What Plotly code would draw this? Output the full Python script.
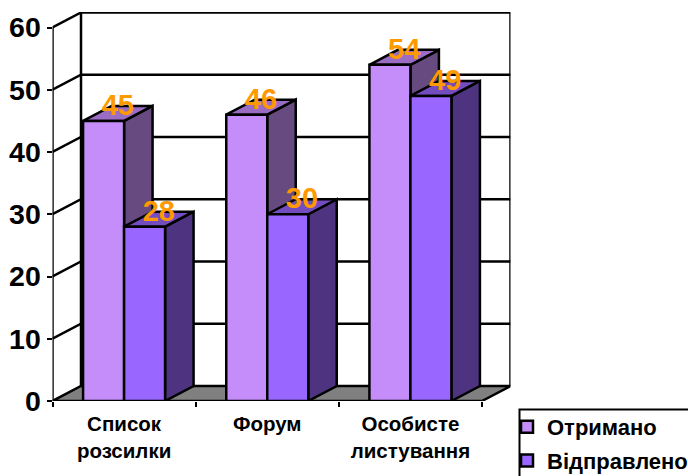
import plotly.graph_objects as go

categories = ["Список<br>розсилки", "Форум", "Особисте<br>листування"]
series_names = ["Отримано", "Відправлено"]
received = [45, 46, 54]
sent = [28, 30, 49]
y_ticks = [0, 10, 20, 30, 40, 50, 60]

FRONT = ["#C48DFA", "#9966FF"]
TOP = ["#9A6CC4", "#734CBF"]
SIDE = ["#664A80", "#4D3380"]
ORANGE = "#FF9900"
FONT = "Liberation Sans"

W, H = 688, 476
X0, X3, Y0, Y60 = 52.5, 482.0, 401.0, 27.5
PX_X = (X3 - X0) / 3
PX_Y = (Y0 - Y60) / 60
DX = 28.5 / PX_X      # depth of the 3D box in x units
DY = 15.0 / PX_Y      # depth of the 3D box in y units
BW = 41.0 / PX_X      # bar width in x units
xc = [0.5, 1.5, 2.5]
LW = 2.5

fig = go.Figure()


def lines(xs, ys, z, width=LW):
    fig.add_trace(go.Scatter(x=xs, y=ys, mode="lines", line=dict(color="black", width=width),
                             showlegend=False, hoverinfo="skip", zorder=z, cliponaxis=False))


def poly(xs, ys, fill, z):
    fig.add_trace(go.Scatter(x=xs, y=ys, mode="lines", fill="toself", fillcolor=fill,
                             line=dict(color="black", width=LW), showlegend=False,
                             hoverinfo="skip", zorder=z, cliponaxis=False))


# Back wall grid, side wall grid, floor
wx, wy = [], []
for v in y_ticks[1:]:
    wx += [0, DX, 3 + DX, None]
    wy += [v, v + DY, v + DY, None]
wx += [0, 0, None, DX, DX, None, 3 + DX, 3 + DX]
wy += [0, 60, None, DY, 60 + DY, None, DY, 60 + DY]
lines(wx, wy, 0)
poly([0, 3, 3 + DX, DX, 0], [0, 0, DY, DY, 0], "#808080", 0)

# Ground ticks are minor ticks of the x axis; bars and their 3D faces
for s, vals in enumerate([received, sent]):
    left = [c - BW + s * BW for c in xc]
    right = [l + BW for l in left]
    sx, sy, tx, ty = [], [], [], []
    for l, r, v in zip(left, right, vals):
        sx += [r, r + DX, r + DX, r, r, None]
        sy += [0, DY, v + DY, v, 0, None]
        tx += [l, l + DX, r + DX, r, l, None]
        ty += [v, v + DY, v + DY, v, v, None]
    poly(sx, sy, SIDE[s], 1 + 2 * s)
    poly(tx, ty, TOP[s], 1 + 2 * s)
    fig.add_trace(go.Bar(x=[c - BW / 2 + s * BW for c in xc], y=vals, width=BW, name=series_names[s],
                         marker=dict(color=FRONT[s], line=dict(color="black", width=LW)),
                         legendgroup=series_names[s], zorder=2 + 2 * s, hoverinfo="skip"))

# Value labels
for s, vals in enumerate([received, sent]):
    fig.add_trace(go.Scatter(x=[c - BW / 2 + s * BW + DX / 2 for c in xc], y=[v + DY * 0.87 for v in vals],
                             mode="text", text=[str(v) for v in vals], textposition="middle center",
                             textfont=dict(family=FONT, size=29, color=ORANGE, weight="bold"),
                             showlegend=False, hoverinfo="skip", zorder=6, cliponaxis=False))

fig.update_layout(
    width=W, height=H, margin=dict(l=0, r=0, t=0, b=0, autoexpand=False), paper_bgcolor="white", plot_bgcolor="white",
    barmode="overlay", showlegend=True,
    xaxis=dict(domain=[X0 / W, (X3 + 28.5) / W], range=[0, 3 + DX], showgrid=False, zeroline=False,
               showline=False, tickmode="array", tickvals=xc,
               ticktext=["<span style='font-size:20.5px'>" + c.replace("<br>", "</span><br><span style='font-size:20.5px'>") + "</span>" for c in categories],
               ticks="", tickfont=dict(family=FONT, size=21.5, color="black", weight="bold"), tickangle=0,
               ticklabelstandoff=7,
               minor=dict(tickmode="array", tickvals=[0, 1, 2, 3], ticks="outside", ticklen=5, tickwidth=2, tickcolor="black")),
    yaxis=dict(domain=[(H - Y0) / H, (H - 12) / H], range=[0, (Y0 - 12) / PX_Y], showgrid=False, zeroline=False,
               showline=False, tickmode="array", tickvals=y_ticks, ticks="outside", ticklen=5, tickwidth=2,
               tickcolor="black", tickfont=dict(family=FONT, size=28.5, color="black", weight="bold")),
    legend=dict(x=507 / W, xanchor="left", y=(H - 406) / H, yanchor="top",
                bgcolor="rgba(0,0,0,0)", tracegroupgap=2,
                traceorder="grouped", font=dict(family=FONT, size=22, color="black", weight="bold"),
                itemclick=False, itemdoubleclick=False),
    shapes=[dict(type="rect", xref="paper", yref="paper", x0=519.5 / W, x1=700 / W,
                 y0=-20 / H, y1=(H - 409.5) / H, line=dict(color="black", width=2), layer="below")],
)

fig.write_html("out.html", config={"displayModeBar": False},
               post_script="document.body.style.margin='0';document.body.style.overflow='hidden';")
